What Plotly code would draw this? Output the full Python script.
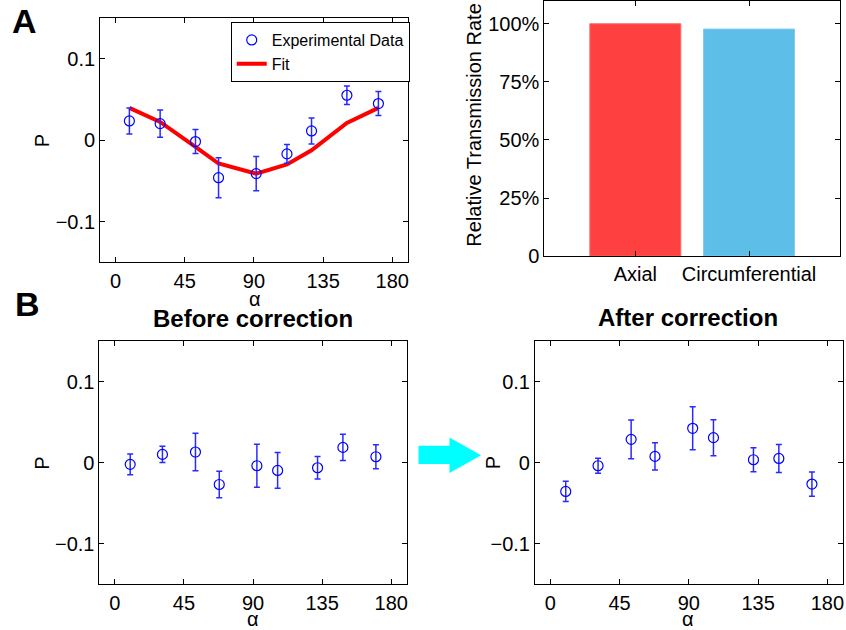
import plotly.graph_objects as go

# ---------------- data ----------------
alpha_a = [9, 29, 52, 67, 91.5, 111.5, 127.5, 150.5, 171]
p_a = [0.0237, 0.0204, -0.0016, -0.046, -0.041, -0.0168, 0.0114, 0.0552, 0.045]
err_a = [0.016, 0.0166, 0.0147, 0.0245, 0.021, 0.0115, 0.016, 0.0115, 0.0147]
fit_a = [0.0397, 0.0225, -0.0082, -0.0286, -0.041, -0.0298, -0.0123, 0.0212, 0.0397]

categories = ["Axial", "Circumferential"]
rates = [1.0, 0.977]

alpha_b = [10, 31, 52.5, 68, 92.5, 106, 132, 148.5, 170]
p_before = [-0.002, 0.0103, 0.0132, -0.0268, -0.0037, -0.0095, -0.0062, 0.0189, 0.0074]
err_before = [0.0127, 0.010, 0.023, 0.0163, 0.0265, 0.022, 0.0138, 0.0163, 0.0148]
p_after = [-0.0354, -0.0037, 0.0288, 0.0078, 0.0424, 0.0309, 0.0037, 0.0053, -0.0263]
err_after = [0.0125, 0.0093, 0.0239, 0.0167, 0.0265, 0.0222, 0.0148, 0.0173, 0.015]

alpha_ticks = [0, 45, 90, 135, 180]
p_ticks = [-0.1, 0, 0.1]
p_ticktext = ["\u22120.1", "0", "0.1"]
rate_ticks = [0, 0.25, 0.5, 0.75, 1.0]
rate_ticktext = ["0", "25%", "50%", "75%", "100%"]

# ---------------- layout helpers ----------------
W, H = 846, 630          # reference pixel frame
FIG_H = 642              # rendered height (viewport appears slightly taller)
FONT = "Liberation Sans, Arial, sans-serif"
BLUE = "#0000ff"
TICK = 20


def dx(a, b):
    return [a / W, b / W]


def dy(top, bottom):
    return [1 - bottom / H, 1 - top / H]


fig = go.Figure()

# Panel A left: data + fit
fig.add_trace(go.Scatter(
    x=alpha_a, y=fit_a, mode="lines", name="Fit",
    line=dict(color="#ff0000", width=4), xaxis="x", yaxis="y", showlegend=True))
fig.add_trace(go.Scatter(
    x=alpha_a, y=p_a, mode="markers", name="Experimental Data",
    marker=dict(symbol="circle-open", size=10, color=BLUE, line=dict(width=1.2, color=BLUE)),
    error_y=dict(type="data", array=err_a, visible=True, color="#2a2aff", thickness=1.5, width=3),
    xaxis="x", yaxis="y", showlegend=True))

# Panel A right: bars
fig.add_trace(go.Bar(
    x=[i + 1 for i in range(len(categories))], y=rates, width=0.8,
    marker=dict(color=["#ff4040", "#5dbee8"],
                line=dict(color=["#ff6a6a", "#7ccbee"], width=1)),
    xaxis="x2", yaxis="y2", showlegend=False))

# Panel B left: before correction
fig.add_trace(go.Scatter(
    x=alpha_b, y=p_before, mode="markers",
    marker=dict(symbol="circle-open", size=10, color=BLUE, line=dict(width=1.2, color=BLUE)),
    error_y=dict(type="data", array=err_before, visible=True, color="#2a2aff", thickness=1.5, width=3),
    xaxis="x3", yaxis="y3", showlegend=False))

# Panel B right: after correction
fig.add_trace(go.Scatter(
    x=alpha_b, y=p_after, mode="markers",
    marker=dict(symbol="circle-open", size=10, color=BLUE, line=dict(width=1.2, color=BLUE)),
    error_y=dict(type="data", array=err_after, visible=True, color="#2a2aff", thickness=1.5, width=3),
    xaxis="x4", yaxis="y4", showlegend=False))

axis_common = dict(showline=True, linecolor="black", linewidth=1, mirror="ticks",
                   ticks="inside", ticklen=5, tickcolor="black", showgrid=False,
                   zeroline=False, tickfont=dict(size=TICK, color="black", family=FONT))

fig.update_layout(
    width=W, height=FIG_H, margin=dict(l=0, r=0, t=0, b=0),
    paper_bgcolor="white", plot_bgcolor="white",
    font=dict(family=FONT, color="black"),
    legend=dict(x=231 / W, y=1 - 22 / H, xanchor="left", yanchor="top",
                bordercolor="black", borderwidth=1, bgcolor="white",
                font=dict(size=16, family=FONT), traceorder="reversed",
                itemwidth=30, tracegroupgap=0),
    xaxis=dict(domain=dx(100.3, 408.1), range=[-10, 190], tickvals=alpha_ticks,
               anchor="y", ticklabelstandoff=1, **axis_common),
    yaxis=dict(domain=dy(18, 262), range=[-0.15, 0.15], tickvals=p_ticks,
               ticktext=p_ticktext, anchor="x", **axis_common),
    xaxis2=dict(domain=dx(545, 841), range=[0.2, 2.8], tickvals=[1, 2],
                ticktext=categories, anchor="y2", ticklabelstandoff=0, **axis_common),
    yaxis2=dict(domain=dy(0.5, 255.7), range=[0, 1.1], tickvals=rate_ticks,
                ticktext=rate_ticktext, anchor="x2", **axis_common),
    xaxis3=dict(domain=dx(99.6, 407.1), range=[-10, 190], tickvals=alpha_ticks,
                anchor="y3", ticklabelstandoff=1, **axis_common),
    yaxis3=dict(domain=dy(340.5, 583.5), range=[-0.15, 0.15], tickvals=p_ticks,
                ticktext=p_ticktext, anchor="x3", **axis_common),
    xaxis4=dict(domain=dx(535.6, 843.7), range=[-10, 190], tickvals=alpha_ticks,
                anchor="y4", ticklabelstandoff=1, **axis_common),
    yaxis4=dict(domain=dy(340.5, 583.5), range=[-0.15, 0.15], tickvals=p_ticks,
                ticktext=p_ticktext, anchor="x4", **axis_common),
)


def ann(text, x, y, size, bold=False, angle=0, yanchor="middle"):
    fig.add_annotation(text=f"<b>{text}</b>" if bold else text,
                       x=x / W, y=1 - y / H, xref="paper", yref="paper",
                       showarrow=False, textangle=angle, xanchor="center", yanchor=yanchor,
                       font=dict(size=size, family=FONT, color="black"))


ann("A", 25, 0, 34, bold=True, yanchor="top")
ann("B", 28, 304, 34, bold=True)
ann("α", 255, 299, 20)
ann("α", 253, 618, 20)
ann("α", 689, 618, 20)
ann("P", 42, 140, 20, angle=-90)
ann("P", 42, 462, 20, angle=-90)
ann("P", 493, 462, 20, angle=-90)
ann("Relative Transmission Rate", 475, 125, 20, angle=-90)
ann("Before correction", 253, 318, 24, bold=True)
ann("After correction", 689, 317, 24, bold=True)

# cyan arrow between panels B
pts = [(419, 445), (450, 445), (450, 436.7), (481.7, 454.5), (450, 472.3), (450, 463.3), (419, 463.3)]
path = "M " + " L ".join(f"{px / W:.5f},{1 - py / H:.5f}" for px, py in pts) + " Z"
fig.add_shape(type="path", path=path, xref="paper", yref="paper",
              fillcolor="#00ffff", line=dict(width=0))

fig.write_html("out.html", config={"displayModeBar": False},
               post_script="document.body.style.margin='0';document.body.style.overflow='hidden';")
